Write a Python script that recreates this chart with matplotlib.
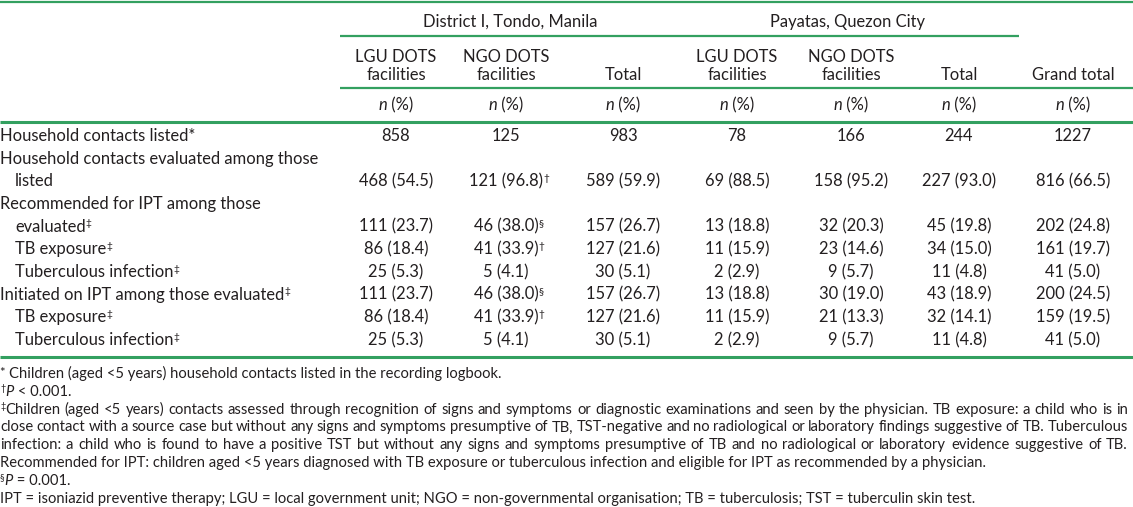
import matplotlib.pyplot as plt

plt.rcParams['font.family'] = ['Lato', 'DejaVu Sans']
INK = '#231f20'
GREEN = '#33a060'

# columns: Tondo LGU, Tondo NGO, Tondo total, Payatas LGU, Payatas NGO, Payatas total, grand total
groups = ['District I, Tondo, Manila', 'Payatas, Quezon City']
col_heads = [['LGU DOTS', 'facilities'], ['NGO DOTS', 'facilities'], ['Total'],
             ['LGU DOTS', 'facilities'], ['NGO DOTS', 'facilities'], ['Total'], ['Grand total']]

listed = [858, 125, 983, 78, 166, 244, 1227]
eval_n = [468, 121, 589, 69, 158, 227, 816]
eval_pct = [54.5, 96.8, 59.9, 88.5, 95.2, 93.0, 66.5]
rec_n = [111, 46, 157, 13, 32, 45, 202]
rec_pct = [23.7, 38.0, 26.7, 18.8, 20.3, 19.8, 24.8]
rec_tb_n = [86, 41, 127, 11, 23, 34, 161]
rec_tb_pct = [18.4, 33.9, 21.6, 15.9, 14.6, 15.0, 19.7]
rec_inf_n = [25, 5, 30, 2, 9, 11, 41]
rec_inf_pct = [5.3, 4.1, 5.1, 2.9, 5.7, 4.8, 5.0]
init_n = [111, 46, 157, 13, 30, 43, 200]
init_pct = [23.7, 38.0, 26.7, 18.8, 19.0, 18.9, 24.5]
init_tb_n = [86, 41, 127, 11, 21, 32, 159]
init_tb_pct = [18.4, 33.9, 21.6, 15.9, 13.3, 14.1, 19.5]
init_inf_n = [25, 5, 30, 2, 9, 11, 41]
init_inf_pct = [5.3, 4.1, 5.1, 2.9, 5.7, 4.8, 5.0]

no_marks = [''] * 7
dag_marks = ['', '†', '', '', '', '', '']
sec_marks = ['', '§', '', '', '', '', '']

fn_star = 'Children (aged <5 years) household contacts listed in the recording logbook.'
fn_ddag = ['Children (aged <5 years) contacts assessed through recognition of signs and symptoms or diagnostic examinations and seen by the physician. TB exposure: a child who is in',
           'close contact with a source case but without any signs and symptoms presumptive of TB, TST-negative and no radiological or laboratory findings suggestive of TB. Tuberculous',
           'infection: a child who is found to have a positive TST but without any signs and symptoms presumptive of TB and no radiological or laboratory evidence suggestive of TB.',
           'Recommended for IPT: children aged <5 years diagnosed with TB exposure or tuberculous infection and eligible for IPT as recommended by a physician.']
fn_abbr = 'IPT = isoniazid preventive therapy; LGU = local government unit; NGO = non-governmental organisation; TB = tuberculosis; TST = tuberculin skin test.'


def cells(n, p):
    return ['%d (%.1f)' % (a, b) for a, b in zip(n, p)]


fig = plt.figure(figsize=(11.33, 5.07), dpi=100)
ax = fig.add_axes([0, 0, 1, 1])
ax.set_xlim(0, 1133)
ax.set_ylim(507, 0)
ax.axis('off')
rend = fig.canvas.get_renderer()

BODY = 11.9
FOOT = 10.6


def width(s, size, style='normal'):
    t = ax.text(0, 0, s, fontsize=size, style=style)
    w = t.get_window_extent(renderer=rend).width
    t.remove()
    return w


def runs_width(runs):
    return sum(width(s, sz, st) for s, sz, st, r in runs)


def draw_runs(x, y, runs, ha='left'):
    # runs: (text, size, style, rise); y is the baseline
    w = runs_width(runs)
    if ha == 'center':
        x = x - w / 2
    elif ha == 'right':
        x = x - w
    for s, sz, st, r in runs:
        ax.text(x, y - r, s, fontsize=sz, style=st, color=INK, va='baseline')
        x += width(s, sz, st)


def sup(s, size):
    return (s, size * 0.62, 'normal', size * 0.45)


def hline(y, x0, x1, lw):
    ax.plot([x0, x1], [y, y], color=GREEN, lw=lw, solid_capstyle='butt')


# rules
hline(2, 0, 1133, 1.6)
hline(36, 340, 1019, 1.6)
hline(88, 340, 1133, 1.6)
hline(122, 0, 1133, 2.2)
hline(357, 0, 1133, 2.2)

col_x = [396, 506, 623, 737, 851, 959, 1073]

# header
ax.text(510, 22, groups[0], fontsize=BODY, color=INK, ha='center', va='center')
ax.text(847, 22, groups[1], fontsize=BODY, color=INK, ha='center', va='center')
for x, head in zip(col_x, col_heads):
    ys = [57, 75] if len(head) == 2 else [75]
    for y, s in zip(ys, head):
        ax.text(x, y, s, fontsize=BODY, color=INK, ha='center', va='center')
    draw_runs(x, 110, [('n', BODY, 'italic', 0), (' (%)', BODY, 'normal', 0)], ha='center')

# body
rows = [
    ([[('Household contacts listed*', BODY, 'normal', 0)]], [str(v) for v in listed], no_marks, 0),
    ([[('Household contacts evaluated among those', BODY, 'normal', 0)],
      [('listed', BODY, 'normal', 0)]], cells(eval_n, eval_pct), dag_marks, 0),
    ([[('Recommended for IPT among those', BODY, 'normal', 0)],
      [('evaluated', BODY, 'normal', 0), sup('‡', BODY)]], cells(rec_n, rec_pct), sec_marks, 0),
    ([[('TB exposure', BODY, 'normal', 0), sup('‡', BODY)]], cells(rec_tb_n, rec_tb_pct), dag_marks, 1),
    ([[('Tuberculous infection', BODY, 'normal', 0), sup('‡', BODY)]], cells(rec_inf_n, rec_inf_pct), no_marks, 1),
    ([[('Initiated on IPT among those evaluated', BODY, 'normal', 0), sup('‡', BODY)]], cells(init_n, init_pct), sec_marks, 0),
    ([[('TB exposure', BODY, 'normal', 0), sup('‡', BODY)]], cells(init_tb_n, init_tb_pct), dag_marks, 1),
    ([[('Tuberculous infection', BODY, 'normal', 0), sup('‡', BODY)]], cells(init_inf_n, init_inf_pct), no_marks, 1),
]

step = 22.67
line = 0
for label_lines, vals, marks, indent in rows:
    for k, lab in enumerate(label_lines):
        y = 136 + step * line + 5
        x0 = 15 if (indent or k > 0) else 0
        draw_runs(x0, y, lab)
        if k == len(label_lines) - 1:
            for x, v, m in zip(col_x, vals, marks):
                w = width(v, BODY)
                ax.text(x, y, v, fontsize=BODY, color=INK, ha='center', va='baseline')
                if m:
                    ax.text(x + w / 2 + 0.5, y - BODY * 0.45, m, fontsize=BODY * 0.62,
                            color=INK, va='baseline')
        line += 1

# footnotes
fstep = 17.8
fy = [374 + fstep * i + 4 for i in range(8)]
draw_runs(0, fy[0], [('* ', FOOT * 0.9, 'normal', 1), (fn_star, FOOT, 'normal', 0)])
draw_runs(0, fy[1], [sup('†', FOOT), ('P', FOOT, 'italic', 0), (' < 0.001.', FOOT, 'normal', 0)])

right = 1128
for i, text in enumerate(fn_ddag):
    y = fy[2 + i]
    words = text.split(' ')
    lead = [sup('‡', FOOT)] if i == 0 else []
    if i == len(fn_ddag) - 1:
        draw_runs(0, y, [(text, FOOT, 'normal', 0)])
        continue
    ws = [width(w, FOOT) for w in words]
    lw0 = runs_width(lead)
    gap = (right - lw0 - sum(ws)) / (len(words) - 1)
    x = 0
    if lead:
        draw_runs(0, y, lead)
        x = lw0
    for w, wd in zip(words, ws):
        ax.text(x, y, w, fontsize=FOOT, color=INK, va='baseline')
        x += wd + gap

draw_runs(0, fy[6], [sup('§', FOOT), ('P', FOOT, 'italic', 0), (' = 0.001.', FOOT, 'normal', 0)])
draw_runs(0, fy[7], [(fn_abbr, FOOT, 'normal', 0)])

fig.savefig('out.png', dpi=100)
